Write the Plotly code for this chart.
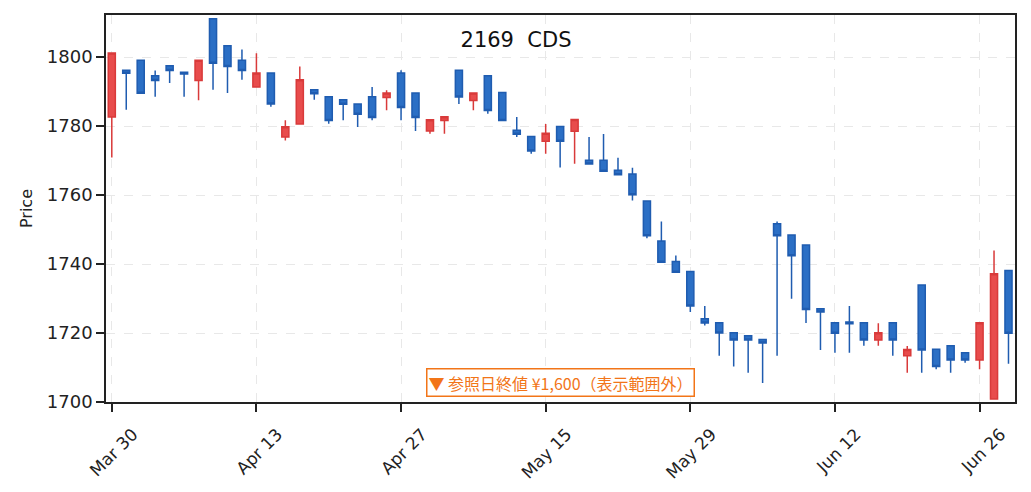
import plotly.graph_objects as go

# trading days (2020), Golden Week holidays skipped
dates = [
    "2020-03-30", "2020-03-31", "2020-04-01", "2020-04-02", "2020-04-03",
    "2020-04-06", "2020-04-07", "2020-04-08", "2020-04-09", "2020-04-10",
    "2020-04-13", "2020-04-14", "2020-04-15", "2020-04-16", "2020-04-17",
    "2020-04-20", "2020-04-21", "2020-04-22", "2020-04-23", "2020-04-24",
    "2020-04-27", "2020-04-28", "2020-04-30", "2020-05-01", "2020-05-07",
    "2020-05-08", "2020-05-11", "2020-05-12", "2020-05-13", "2020-05-14",
    "2020-05-15", "2020-05-18", "2020-05-19", "2020-05-20", "2020-05-21",
    "2020-05-22", "2020-05-25", "2020-05-26", "2020-05-27", "2020-05-28",
    "2020-05-29", "2020-06-01", "2020-06-02", "2020-06-03", "2020-06-04",
    "2020-06-05", "2020-06-08", "2020-06-09", "2020-06-10", "2020-06-11",
    "2020-06-12", "2020-06-15", "2020-06-16", "2020-06-17", "2020-06-18",
    "2020-06-19", "2020-06-22", "2020-06-23", "2020-06-24", "2020-06-25",
    "2020-06-26", "2020-06-29", "2020-06-30",
]

opens = [
    1782.6, 1796.2, 1799.1, 1794.6, 1797.5, 1795.6, 1793.2, 1811.1, 1803.3, 1799.1,
    1791.3, 1795.4, 1776.8, 1780.6, 1790.5, 1788.5, 1787.6, 1786.4, 1788.5, 1788.3,
    1795.4, 1789.6, 1778.6, 1781.6, 1796.2, 1787.4, 1794.6, 1789.7, 1778.8, 1777.0,
    1775.6, 1779.9, 1778.5, 1770.1, 1770.1, 1767.2, 1766.1, 1758.3, 1746.7, 1740.7,
    1737.8, 1724.1, 1723.0, 1720.1, 1719.2, 1718.1, 1751.7, 1748.4, 1745.5, 1727.0,
    1723.0, 1723.2, 1723.0, 1718.0, 1723.0, 1713.4, 1733.9, 1715.3, 1716.3, 1714.3,
    1712.2, 1700.9, 1738.1,
]
highs = [
    1801.2, 1796.2, 1799.1, 1796.1, 1797.5, 1795.6, 1799.1, 1811.1, 1803.3, 1802.2,
    1801.1, 1795.4, 1781.7, 1797.3, 1790.5, 1788.5, 1787.6, 1786.4, 1791.3, 1790.4,
    1796.2, 1789.6, 1781.8, 1782.7, 1796.2, 1789.6, 1794.6, 1789.7, 1782.6, 1777.0,
    1780.6, 1779.9, 1781.9, 1776.8, 1777.7, 1770.8, 1767.9, 1758.3, 1752.3, 1742.5,
    1737.8, 1727.8, 1723.0, 1720.1, 1719.2, 1718.1, 1752.3, 1748.4, 1745.5, 1727.0,
    1723.0, 1727.8, 1723.0, 1722.8, 1723.0, 1716.2, 1733.9, 1715.3, 1716.3, 1714.3,
    1723.0, 1743.9, 1738.1,
]
lows = [
    1770.9, 1784.7, 1789.5, 1788.5, 1792.5, 1788.5, 1787.5, 1790.5, 1789.6, 1793.4,
    1791.3, 1785.6, 1775.8, 1780.6, 1787.6, 1780.7, 1781.7, 1779.7, 1781.7, 1784.6,
    1781.7, 1778.6, 1777.8, 1777.8, 1786.4, 1784.6, 1783.6, 1781.6, 1776.8, 1772.0,
    1772.0, 1768.0, 1769.1, 1769.0, 1766.9, 1765.9, 1758.4, 1747.5, 1740.5, 1737.6,
    1726.1, 1722.2, 1713.4, 1710.3, 1708.5, 1705.5, 1713.4, 1729.9, 1722.9, 1715.1,
    1714.3, 1714.3, 1716.3, 1716.3, 1713.4, 1708.5, 1708.5, 1709.5, 1708.5, 1711.4,
    1709.5, 1700.9, 1711.1,
]
closes = [
    1801.2, 1795.3, 1789.5, 1793.2, 1796.1, 1795.1, 1799.1, 1798.2, 1797.3, 1796.1,
    1795.4, 1786.4, 1779.8, 1793.4, 1789.4, 1781.6, 1786.3, 1783.4, 1782.5, 1789.6,
    1785.4, 1782.5, 1781.8, 1782.7, 1788.4, 1789.6, 1784.5, 1781.6, 1777.6, 1772.8,
    1777.9, 1775.6, 1781.9, 1769.0, 1766.9, 1765.9, 1760.1, 1748.2, 1740.5, 1737.6,
    1727.8, 1722.9, 1720.0, 1718.0, 1718.0, 1717.1, 1748.2, 1742.4, 1726.8, 1726.1,
    1719.9, 1722.7, 1718.0, 1720.1, 1718.0, 1715.2, 1715.1, 1710.3, 1712.2, 1712.2,
    1723.0, 1737.2, 1719.9,
]

tick_dates = ["2020-03-30", "2020-04-13", "2020-04-27", "2020-05-15",
              "2020-05-29", "2020-06-12", "2020-06-26"]
tick_labels = ["Mar 30", "Apr 13", "Apr 27", "May 15", "May 29", "Jun 12", "Jun 26"]

FONT = "DejaVu Sans"
JP_FONT = "Noto Sans CJK JP"

fig = go.Figure()
fig.add_trace(go.Candlestick(
    x=dates, open=opens, high=highs, low=lows, close=closes,
    increasing=dict(line=dict(color="#d93a3a", width=1.5), fillcolor="#e84c4c"),
    decreasing=dict(line=dict(color="#1f5cb0", width=1.5), fillcolor="#2b6fc5"),
    whiskerwidth=0,
    showlegend=False,
    hoverinfo="x+y",
))

# page body adds 8px margin, so the figure is sized/shifted to compensate
fig.update_layout(
    width=1023, height=484,
    margin=dict(l=98, r=16, t=5, b=90),
    paper_bgcolor="white", plot_bgcolor="white",
    font=dict(family=FONT, size=18, color="#222222"),
    title=dict(text="2169  CDS", xref="container", x=0.4966, xanchor="center",
               y=1 - 32 / 484, yanchor="middle",
               font=dict(family=FONT, size=21, color="#111111")),
    boxgap=0.3,
    xaxis=dict(
        type="category", rangeslider=dict(visible=False),
        range=[-0.4, 62.45],
        tickmode="array", tickvals=tick_dates, ticktext=tick_labels,
        tickangle=-45, ticklabelshift=21, ticklabelstandoff=6,
        ticks="outside", ticklen=8, tickwidth=1.5, tickcolor="#222222",
        showline=True, linecolor="#222222", linewidth=1.5, mirror=True,
        showgrid=True, gridcolor="#e8e8e8", griddash="dash", gridwidth=1,
        tickfont=dict(size=17),
    ),
    yaxis=dict(
        range=[1700, 1812.2], dtick=20,
        title=dict(text="Price", font=dict(size=16), standoff=10),
        ticks="outside", ticklen=8, tickwidth=1.5, tickcolor="#222222",
        showline=True, linecolor="#222222", linewidth=1.5, mirror=True,
        showgrid=True, gridcolor="#e8e8e8", griddash="dash", gridwidth=1,
        zeroline=False, tickfont=dict(size=18),
    ),
    annotations=[dict(
        text="▼ 参照日終値 ¥1,600（表示範囲外）",
        xref="paper", yref="paper", x=0.5, y=0.051,
        xanchor="center", yanchor="middle", showarrow=False,
        font=dict(family=JP_FONT, size=16, color="#f27518"),
        bgcolor="white", bordercolor="#f27518", borderwidth=1.5, borderpad=1,
    )],
)

fig.write_html("out.html")
